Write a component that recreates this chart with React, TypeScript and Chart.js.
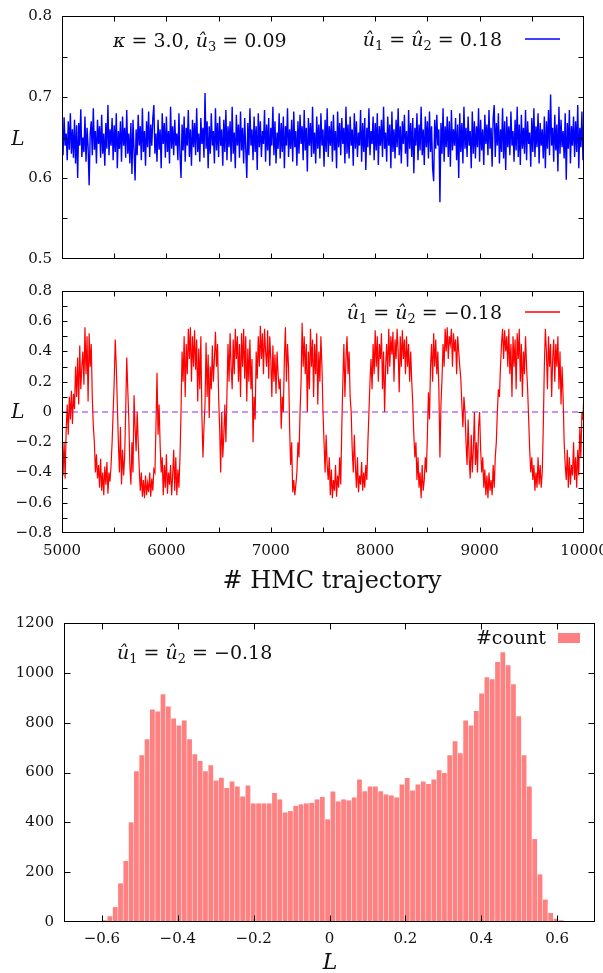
import React, { useEffect, useRef } from 'react';
import { Chart, registerables } from 'chart.js';
Chart.register(...registerables);

// ---------------- data ----------------
const trajStart = 5000;
const trajStep = 10;

const topTrace = [
  0.662, 0.628, 0.675, 0.640, 0.655, 0.622, 0.670, 0.635, 0.680, 0.630,
  0.660, 0.625, 0.672, 0.618, 0.665, 0.600, 0.668, 0.640, 0.685, 0.626,
  0.650, 0.632, 0.676, 0.620, 0.662, 0.638, 0.591, 0.655, 0.670, 0.628,
  0.686, 0.635, 0.658, 0.618, 0.672, 0.642, 0.664, 0.625, 0.678, 0.630,
  0.655, 0.615, 0.668, 0.636, 0.690, 0.628, 0.660, 0.640, 0.674, 0.622,
  0.665, 0.632, 0.680, 0.612, 0.658, 0.636, 0.670, 0.620, 0.676, 0.640,
  0.662, 0.625, 0.684, 0.630, 0.655, 0.618, 0.668, 0.605, 0.672, 0.634,
  0.597, 0.660, 0.628, 0.678, 0.640, 0.664, 0.622, 0.686, 0.632, 0.658,
  0.615, 0.670, 0.638, 0.682, 0.626, 0.666, 0.640, 0.674, 0.690, 0.630,
  0.655, 0.620, 0.672, 0.635, 0.660, 0.612, 0.680, 0.642, 0.668, 0.625,
  0.676, 0.632, 0.658, 0.618, 0.688, 0.636, 0.664, 0.628, 0.672, 0.640,
  0.655, 0.622, 0.680, 0.630, 0.600, 0.666, 0.634, 0.676, 0.620, 0.662,
  0.640, 0.684, 0.626, 0.660, 0.615, 0.672, 0.638, 0.668, 0.628, 0.686,
  0.632, 0.655, 0.620, 0.674, 0.642, 0.662, 0.625, 0.705, 0.636, 0.670,
  0.612, 0.664, 0.630, 0.680, 0.640, 0.658, 0.618, 0.686, 0.634, 0.668,
  0.626, 0.676, 0.640, 0.660, 0.615, 0.672, 0.632, 0.684, 0.622, 0.664,
  0.638, 0.670, 0.620, 0.688, 0.630, 0.656, 0.612, 0.678, 0.640, 0.666,
  0.625, 0.682, 0.634, 0.662, 0.618, 0.674, 0.636, 0.600, 0.668, 0.628,
  0.686, 0.640, 0.660, 0.622, 0.676, 0.632, 0.664, 0.610, 0.680, 0.638,
  0.670, 0.626, 0.658, 0.642, 0.684, 0.620, 0.666, 0.634, 0.674, 0.615,
  0.662, 0.640, 0.688, 0.628, 0.670, 0.618, 0.656, 0.636, 0.680, 0.624,
  0.668, 0.632, 0.676, 0.612, 0.664, 0.640, 0.686, 0.626, 0.660, 0.636,
  0.672, 0.620, 0.682, 0.638, 0.658, 0.615, 0.670, 0.630, 0.678, 0.642,
  0.664, 0.622, 0.684, 0.634, 0.662, 0.608, 0.674, 0.640, 0.668, 0.626,
  0.688, 0.630, 0.656, 0.618, 0.676, 0.636, 0.666, 0.624, 0.680, 0.640,
  0.660, 0.614, 0.672, 0.632, 0.686, 0.626, 0.664, 0.640, 0.670, 0.620,
  0.678, 0.634, 0.658, 0.612, 0.682, 0.638, 0.668, 0.628, 0.674, 0.642,
  0.662, 0.618, 0.688, 0.630, 0.666, 0.624, 0.676, 0.640, 0.660, 0.615,
  0.680, 0.636, 0.670, 0.626, 0.656, 0.640, 0.684, 0.620, 0.668, 0.632,
  0.674, 0.610, 0.662, 0.638, 0.686, 0.628, 0.658, 0.642, 0.676, 0.622,
  0.668, 0.634, 0.680, 0.616, 0.664, 0.640, 0.672, 0.626, 0.688, 0.636,
  0.656, 0.620, 0.676, 0.640, 0.666, 0.612, 0.682, 0.632, 0.660, 0.624,
  0.672, 0.638, 0.686, 0.628, 0.664, 0.618, 0.670, 0.642, 0.678, 0.630,
  0.658, 0.614, 0.684, 0.636, 0.668, 0.626, 0.674, 0.606, 0.662, 0.640,
  0.680, 0.622, 0.666, 0.634, 0.688, 0.628, 0.660, 0.616, 0.676, 0.638,
  0.670, 0.624, 0.682, 0.632, 0.664, 0.612, 0.596, 0.672, 0.636, 0.678,
  0.640, 0.660, 0.570, 0.668, 0.630, 0.686, 0.620, 0.664, 0.638, 0.676,
  0.626, 0.670, 0.614, 0.684, 0.634, 0.660, 0.640, 0.674, 0.622, 0.666,
  0.600, 0.680, 0.632, 0.668, 0.618, 0.688, 0.636, 0.662, 0.626, 0.676,
  0.640, 0.658, 0.612, 0.682, 0.630, 0.670, 0.624, 0.664, 0.638, 0.686,
  0.620, 0.672, 0.634, 0.660, 0.616, 0.678, 0.642, 0.666, 0.628, 0.684,
  0.636, 0.662, 0.614, 0.674, 0.690, 0.626, 0.668, 0.640, 0.680, 0.618,
  0.660, 0.632, 0.686, 0.624, 0.670, 0.610, 0.676, 0.638, 0.664, 0.628,
  0.682, 0.640, 0.658, 0.620, 0.672, 0.634, 0.688, 0.626, 0.666, 0.616,
  0.678, 0.636, 0.662, 0.630, 0.684, 0.622, 0.670, 0.642, 0.656, 0.614,
  0.674, 0.632, 0.686, 0.626, 0.664, 0.638, 0.680, 0.618, 0.668, 0.640,
  0.660, 0.624, 0.676, 0.612, 0.670, 0.636, 0.684, 0.628, 0.703, 0.640,
  0.662, 0.620, 0.678, 0.634, 0.666, 0.608, 0.688, 0.630, 0.672, 0.638,
  0.658, 0.624, 0.680, 0.598, 0.668, 0.636, 0.684, 0.618, 0.664, 0.640,
  0.676, 0.626, 0.670, 0.632, 0.690, 0.612, 0.662, 0.638, 0.682, 0.622,
  0.672,
];

const midTrace = [
  -0.10, -0.42, -0.20, -0.44, -0.12, 0.05, -0.15, 0.10, -0.05, 0.14,
  -0.08, 0.12, 0.02, 0.30, 0.10, 0.36, 0.05, 0.44, 0.15, 0.30,
  0.40, 0.18, 0.56, 0.25, 0.50, 0.07, 0.52, 0.30, 0.45, 0.10,
  -0.09, -0.20, -0.40, -0.28, -0.44, -0.35, -0.50, -0.31, -0.52, -0.40,
  -0.55, -0.36, -0.48, -0.33, -0.54, -0.40, -0.46, -0.35, -0.20, 0.00,
  0.20, 0.48, 0.30, 0.05, -0.20, -0.40, -0.10, -0.48, -0.25, -0.42,
  -0.30, 0.00, 0.36, 0.15, -0.05, -0.35, -0.48, -0.20, -0.40, 0.11,
  -0.10, -0.26, 0.00, -0.20, -0.38, -0.52, -0.40, -0.56, -0.45, -0.57,
  -0.42, -0.55, -0.47, -0.53, -0.40, -0.56, -0.44, -0.52, -0.38, -0.40,
  -0.10, 0.26, -0.15, 0.05, -0.22, -0.40, -0.30, -0.55, -0.35, -0.50,
  -0.28, -0.54, -0.40, -0.48, -0.35, -0.55, -0.42, -0.25, -0.52, -0.30,
  -0.55, -0.38, -0.50, -0.30, 0.00, 0.40, 0.20, 0.50, 0.10, 0.45,
  0.25, 0.55, 0.35, 0.56, 0.20, 0.50, 0.30, 0.54, 0.28, 0.48,
  0.07, 0.42, 0.15, 0.50, -0.02, -0.30, -0.10, 0.05, 0.46, 0.10,
  0.38, -0.04, 0.30, 0.15, 0.44, 0.20, 0.35, 0.53, 0.30, 0.45,
  0.10, -0.10, -0.40, 0.00, -0.30, -0.15, 0.05, -0.20, 0.12, 0.45,
  0.20, 0.52, 0.30, 0.15, 0.48, 0.25, 0.55, 0.35, 0.50, 0.20,
  0.45, 0.10, 0.52, 0.30, 0.55, 0.22, 0.50, 0.07, 0.42, 0.20,
  0.48, 0.15, 0.35, -0.20, 0.10, -0.05, 0.40, 0.22, 0.50, 0.30,
  0.57, 0.35, 0.52, 0.25, 0.55, 0.40, 0.30, 0.54, 0.22, 0.50,
  0.35, 0.10, 0.44, 0.20, 0.38, 0.12, 0.40, 0.25, 0.15, 0.22,
  -0.11, 0.10, 0.00, 0.35, 0.56, 0.20, 0.45, 0.30, -0.10, -0.35,
  -0.20, -0.53, -0.45, -0.55, -0.48, -0.40, -0.20, -0.30, 0.00, 0.20,
  0.59, 0.30, 0.50, 0.25, 0.45, 0.00, 0.40, 0.15, 0.55, 0.30,
  0.48, 0.10, 0.45, 0.25, 0.52, 0.05, 0.40, 0.20, 0.50, 0.30,
  0.00, -0.20, -0.40, -0.15, -0.35, -0.45, -0.30, -0.55, -0.38, -0.57,
  -0.45, -0.52, -0.35, -0.56, -0.42, -0.50, -0.30, -0.48, -0.10, 0.20,
  0.45, 0.10, 0.35, 0.50, 0.25, 0.40, 0.10, 0.00, -0.25, -0.40,
  -0.15, -0.35, -0.50, -0.30, -0.53, -0.42, -0.48, -0.33, -0.52, -0.40,
  -0.50, -0.35, -0.45, -0.20, 0.00, 0.20, 0.35, 0.15, 0.45, 0.25,
  0.54, 0.30, 0.50, 0.20, 0.45, 0.35, 0.52, 0.15, 0.40, 0.00,
  0.30, 0.45, 0.25, 0.55, 0.30, 0.50, 0.38, 0.53, 0.20, 0.48,
  0.35, 0.55, 0.40, 0.13, 0.50, 0.30, 0.54, 0.35, 0.48, 0.25,
  0.50, 0.30, 0.45, 0.20, 0.40, 0.20, 0.05, -0.15, -0.30, -0.20,
  -0.45, -0.30, -0.50, -0.40, -0.57, -0.35, -0.52, -0.45, -0.30, -0.40,
  -0.15, 0.13, -0.05, 0.30, 0.45, 0.20, 0.52, 0.30, 0.48, 0.25,
  0.40, 0.15, -0.30, 0.05, 0.22, 0.45, 0.30, 0.55, 0.40, 0.56,
  0.35, 0.50, 0.45, 0.55, 0.30, 0.52, 0.40, 0.48, 0.25, 0.50,
  0.40, 0.30, 0.22, 0.05, -0.10, 0.10, 0.00, -0.20, -0.35, -0.05,
  -0.30, -0.44, -0.15, -0.40, -0.25, 0.00, -0.35, -0.20, -0.40, -0.10,
  0.00, -0.25, -0.40, -0.30, -0.50, -0.38, -0.55, -0.42, -0.57, -0.40,
  -0.52, -0.45, -0.55, -0.35, -0.50, -0.30, -0.20, 0.00, 0.15, 0.10,
  0.30, 0.45, 0.55, 0.35, 0.54, 0.40, 0.50, 0.30, 0.55, 0.25,
  0.45, 0.10, 0.50, 0.30, 0.48, 0.15, 0.52, 0.35, 0.55, 0.20,
  0.45, 0.10, 0.40, 0.25, 0.50, 0.30, 0.15, -0.05, -0.25, -0.40,
  -0.30, -0.45, -0.35, -0.52, -0.40, -0.50, -0.30, -0.48, -0.35, -0.50,
  -0.40, -0.10, 0.30, 0.55, 0.40, 0.15, 0.50, 0.30, 0.45, 0.10,
  0.35, 0.48, 0.20, 0.45, 0.30, 0.50, 0.15, 0.40, 0.05, 0.30,
  0.10, -0.20, -0.35, -0.45, -0.25, -0.50, -0.30, -0.48, -0.35, -0.42,
  -0.20, -0.45, -0.30, -0.50, -0.25, -0.42, -0.10, -0.30, 0.00, -0.05,
  0.15,
];

const zeroLevel = 0;

const histStart = -0.6;
const histBinWidth = 0.014;
const histCounts = [
  7, 23, 60, 155, 245, 400, 605, 669, 733, 853,
  845, 914, 865, 817, 789, 809, 733, 673, 646, 605,
  629, 568, 579, 538, 564, 544, 504, 548, 476, 476,
  476, 476, 518, 492, 440, 445, 466, 472, 476, 478,
  492, 502, 412, 524, 484, 492, 488, 500, 572, 525,
  544, 544, 525, 512, 508, 500, 552, 578, 528, 552,
  564, 554, 572, 609, 598, 669, 725, 677, 809, 789,
  847, 917, 982, 974, 1043, 1083, 1030, 954, 826, 669,
  544, 333, 191, 90, 36, 13, 7,
];

const topYLabels = [0.5, 0.6, 0.7, 0.8];
const topYMarks = [0.55, 0.6, 0.65, 0.7, 0.75];
const midYLabels = [-0.8, -0.6, -0.4, -0.2, 0, 0.2, 0.4, 0.6, 0.8];
const midYMarks = [-0.7, -0.6, -0.5, -0.4, -0.3, -0.2, -0.1, 0, 0.1, 0.2, 0.3, 0.4, 0.5, 0.6, 0.7];
const trajLabels = [5000, 6000, 7000, 8000, 9000, 10000];
const trajMarks = [5500, 6000, 6500, 7000, 7500, 8000, 8500, 9000, 9500];
const histXLabels = [-0.6, -0.4, -0.2, 0, 0.2, 0.4, 0.6];
const histYLabels = [0, 200, 400, 600, 800, 1000, 1200];
const histYMarks = [200, 400, 600, 800, 1000];

// ---------------- styling helpers ----------------
const FAMILY = '"DejaVu Serif", serif';
const TEXT = '#111';
const tickFont = { family: FAMILY, size: 15 };

type Seg = { t: string; it?: boolean; sub?: boolean };
type TextItem = { segs: Seg[]; x: number; y: number; size: number; align: 'left' | 'right' | 'center' };
type Decor = {
  xMarks: number[];
  yMarks: number[];
  tickLen: number;
  texts: TextItem[];
  line?: { x1: number; x2: number; y: number; color: string };
  box?: { x: number; y: number; w: number; h: number; color: string };
};

const u = (n: string): Seg[] => [{ t: 'û', it: true }, { t: n, sub: true }];

function drawRich(ctx: CanvasRenderingContext2D, item: TextItem) {
  const fontFor = (s: Seg) =>
    `${s.it ? 'italic ' : ''}${s.sub ? Math.round(item.size * 0.7) : item.size}px ${FAMILY}`;
  const widths = item.segs.map((s) => {
    ctx.font = fontFor(s);
    return ctx.measureText(s.t).width;
  });
  const total = widths.reduce((a, b) => a + b, 0);
  let cx = item.align === 'right' ? item.x - total : item.align === 'center' ? item.x - total / 2 : item.x;
  ctx.textAlign = 'left';
  ctx.textBaseline = 'alphabetic';
  ctx.fillStyle = TEXT;
  item.segs.forEach((s, i) => {
    ctx.font = fontFor(s);
    ctx.fillText(s.t, cx, s.sub ? item.y + item.size * 0.22 : item.y);
    cx += widths[i];
  });
}

function decorPlugin(cfg: Decor) {
  return {
    id: 'decor',
    afterDatasetsDraw(chart: any) {
      const { ctx, chartArea: a, scales } = chart;
      const xs = scales.x;
      const ys = scales.y;
      ctx.save();
      const L = Math.round(a.left) + 0.5;
      const R = Math.round(a.right) - 0.5;
      const T = Math.round(a.top) + 0.5;
      const B = Math.round(a.bottom) - 0.5;
      ctx.strokeStyle = '#000';
      ctx.lineWidth = 1;
      ctx.beginPath();
      for (const v of cfg.xMarks) {
        const px = Math.round(xs.getPixelForValue(v)) + 0.5;
        if (px <= L + 1 || px >= R - 1) continue;
        ctx.moveTo(px, B);
        ctx.lineTo(px, B - cfg.tickLen);
        ctx.moveTo(px, T);
        ctx.lineTo(px, T + cfg.tickLen);
      }
      for (const v of cfg.yMarks) {
        const py = Math.round(ys.getPixelForValue(v)) + 0.5;
        if (py <= T + 1 || py >= B - 1) continue;
        ctx.moveTo(L, py);
        ctx.lineTo(L + cfg.tickLen, py);
        ctx.moveTo(R, py);
        ctx.lineTo(R - cfg.tickLen, py);
      }
      ctx.stroke();
      ctx.strokeRect(L, T, R - L, B - T);
      if (cfg.line) {
        ctx.strokeStyle = cfg.line.color;
        ctx.lineWidth = 1.5;
        ctx.beginPath();
        ctx.moveTo(cfg.line.x1, cfg.line.y);
        ctx.lineTo(cfg.line.x2, cfg.line.y);
        ctx.stroke();
      }
      if (cfg.box) {
        ctx.fillStyle = cfg.box.color;
        ctx.fillRect(cfg.box.x, cfg.box.y, cfg.box.w, cfg.box.h);
      }
      cfg.texts.forEach((t) => drawRich(ctx, t));
      ctx.restore();
    },
  };
}

function yAxis(min: number, max: number, labels: number[], fmt: (v: number) => string, width: number, pad: number) {
  return {
    type: 'linear',
    position: 'left',
    min,
    max,
    afterBuildTicks: (s: any) => {
      s.ticks = labels.map((v) => ({ value: v }));
    },
    afterFit: (s: any) => {
      s.width = width;
      s.paddingTop = 0;
      s.paddingBottom = 0;
    },
    grid: { display: false, drawTicks: false },
    border: { display: false },
    ticks: { font: tickFont, color: TEXT, padding: pad, callback: (v: any) => fmt(Number(v)) },
  };
}

function xAxis(min: number, max: number, labels: number[], fmt: (v: number) => string, height: number, pad: number, show: boolean) {
  return {
    type: 'linear',
    position: 'bottom',
    min,
    max,
    offset: false,
    display: show,
    afterBuildTicks: (s: any) => {
      s.ticks = labels.map((v) => ({ value: v }));
    },
    afterFit: (s: any) => {
      s.height = height;
      s.paddingLeft = 0;
      s.paddingRight = 0;
    },
    grid: { display: false, drawTicks: false, offset: false },
    border: { display: false },
    ticks: { font: tickFont, color: TEXT, padding: pad, maxRotation: 0, autoSkip: false, callback: (v: any) => fmt(Number(v)) },
  };
}

const signed = (d: number) => (v: number) =>
  Math.abs(v) < 1e-9 ? '0' : (v < 0 ? '\u2212' : '') + Math.abs(v).toFixed(d);

const base = {
  responsive: false,
  animation: false as const,
  devicePixelRatio: 1,
  events: [] as any[],
  plugins: { legend: { display: false }, tooltip: { enabled: false } },
};

// ---------------- chart configs ----------------
function topConfig(): any {
  return {
    type: 'line',
    data: {
      datasets: [
        {
          data: topTrace.map((v, i) => ({ x: trajStart + i * trajStep, y: v })),
          borderColor: '#0000ff',
          borderWidth: 1.4,
          pointRadius: 0,
          tension: 0,
        },
      ],
    },
    options: {
      ...base,
      layout: { padding: { left: 0, right: 19, top: 16, bottom: 11 } },
      scales: {
        x: xAxis(5000, 10000, trajLabels, (v) => String(v), 0, 0, false),
        y: yAxis(0.5, 0.8, topYLabels, (v) => v.toFixed(1), 62, 10),
      },
    },
    plugins: [
      decorPlugin({
        xMarks: trajMarks,
        yMarks: topYMarks,
        tickLen: 5,
        line: { x1: 525, x2: 560, y: 39, color: '#0000ff' },
        texts: [
          { segs: [{ t: 'L', it: true }], x: 18, y: 145, size: 20, align: 'center' },
          {
            segs: [{ t: 'κ', it: true }, { t: ' = 3.0, ' }, ...u('3'), { t: ' = 0.09' }],
            x: 113, y: 47, size: 19, align: 'left',
          },
          {
            segs: [...u('1'), { t: ' = ' }, ...u('2'), { t: ' = 0.18' }],
            x: 502, y: 46, size: 19, align: 'right',
          },
        ],
      }),
    ],
  };
}

function midConfig(): any {
  return {
    type: 'line',
    data: {
      datasets: [
        {
          data: [
            { x: 5000, y: zeroLevel },
            { x: 10000, y: zeroLevel },
          ],
          borderColor: 'rgb(150, 40, 220)',
          borderWidth: 1,
          borderDash: [6, 4],
          pointRadius: 0,
        },
        {
          data: midTrace.map((v, i) => ({ x: trajStart + i * trajStep, y: v })),
          borderColor: '#ff0000',
          borderWidth: 1.2,
          pointRadius: 0,
          tension: 0,
        },
      ],
    },
    options: {
      ...base,
      layout: { padding: { left: 0, right: 19, top: 21, bottom: 0 } },
      scales: {
        x: xAxis(5000, 10000, trajLabels, (v) => String(v), 67, 9, true),
        y: yAxis(-0.8, 0.8, midYLabels, signed(1), 62, 10),
      },
    },
    plugins: [
      decorPlugin({
        xMarks: trajMarks,
        yMarks: midYMarks,
        tickLen: 5,
        line: { x1: 525, x2: 560, y: 42, color: '#ff0000' },
        texts: [
          { segs: [{ t: 'L', it: true }], x: 18, y: 148, size: 20, align: 'center' },
          {
            segs: [...u('1'), { t: ' = ' }, ...u('2'), { t: ' = \u22120.18' }],
            x: 502, y: 49, size: 19, align: 'right',
          },
          { segs: [{ t: '# HMC trajectory' }], x: 332, y: 318, size: 24, align: 'center' },
        ],
      }),
    ],
  };
}

function histConfig(): any {
  return {
    type: 'bar',
    data: {
      datasets: [
        {
          data: histCounts.map((c, i) => ({ x: histStart + histBinWidth * (i + 0.5), y: c })),
          backgroundColor: 'rgb(255, 128, 128)',
          borderWidth: 0,
          barPercentage: 0.9,
          categoryPercentage: 1,
        },
      ],
    },
    options: {
      ...base,
      layout: { padding: { left: 0, right: 8, top: 23, bottom: 0 } },
      scales: {
        x: xAxis(-0.7, 0.7, histXLabels, signed(1), 51, 8, true),
        y: yAxis(0, 1200, histYLabels, (v) => String(v), 64, 10),
      },
    },
    plugins: [
      decorPlugin({
        xMarks: histXLabels,
        yMarks: histYMarks,
        tickLen: 6,
        box: { x: 558, y: 33, w: 22, h: 10, color: 'rgb(255, 128, 128)' },
        texts: [
          {
            segs: [...u('1'), { t: ' = ' }, ...u('2'), { t: ' = \u22120.18' }],
            x: 117, y: 59, size: 19, align: 'left',
          },
          { segs: [{ t: '#count' }], x: 546, y: 44, size: 19, align: 'right' },
          { segs: [{ t: 'L', it: true }], x: 330, y: 369, size: 22, align: 'center' },
        ],
      }),
    ],
  };
}

export default function App() {
  const r1 = useRef<HTMLCanvasElement>(null);
  const r2 = useRef<HTMLCanvasElement>(null);
  const r3 = useRef<HTMLCanvasElement>(null);

  useEffect(() => {
    const charts = [
      new Chart(r1.current!, topConfig()),
      new Chart(r2.current!, midConfig()),
      new Chart(r3.current!, histConfig()),
    ];
    return () => charts.forEach((c) => c.destroy());
  }, []);

  return (
    <div style={{ position: 'absolute', left: 0, top: 0, width: 603, height: 973, background: '#fff', overflow: 'hidden' }}>
      <canvas ref={r1} width={603} height={270} style={{ position: 'absolute', left: 0, top: 0, width: 603, height: 270 }} />
      <canvas ref={r2} width={603} height={330} style={{ position: 'absolute', left: 0, top: 270, width: 603, height: 330 }} />
      <canvas ref={r3} width={603} height={373} style={{ position: 'absolute', left: 0, top: 600, width: 603, height: 373 }} />
    </div>
  );
}
